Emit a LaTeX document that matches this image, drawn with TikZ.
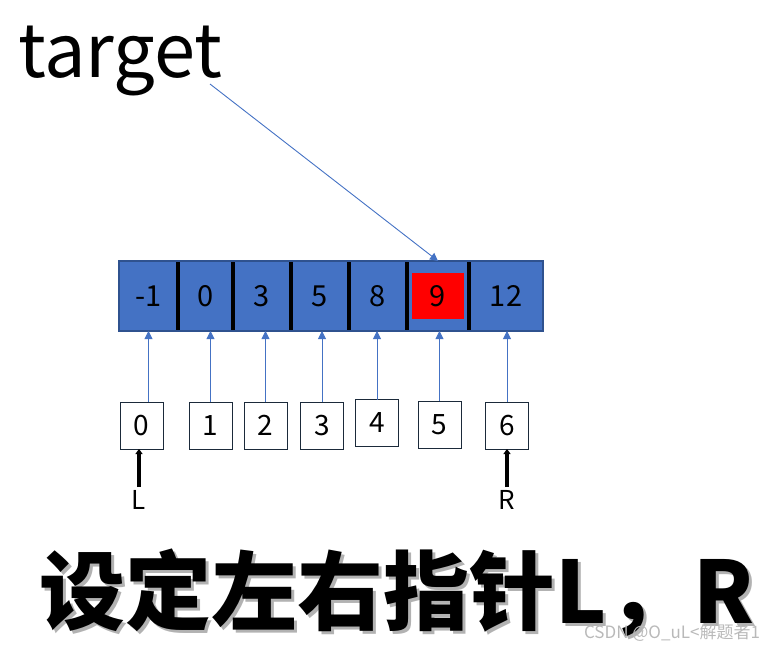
\documentclass[tikz,border=0pt]{standalone}
\usepackage{fontspec}
\setmainfont{Noto Sans CJK SC}
\usetikzlibrary{positioning,arrows.meta}
\usepackage{xcolor}
\definecolor{cellblue}{HTML}{4472C4}
\definecolor{celledge}{HTML}{2F528F}
\definecolor{boxedge}{HTML}{1B2A3A}

\begin{document}
\begin{tikzpicture}[x=1pt, y=-1pt, >={Triangle[length=8pt,width=8pt]}, every node/.style={inner sep=0pt, outer sep=0pt}]
\tikzstyle{cell}=[rectangle, draw=celledge, line width=1.2pt, fill=cellblue, minimum height=70pt, font=\fontsize{29}{29}\selectfont]
\tikzstyle{idx}=[rectangle, draw=boxedge, line width=1pt, fill=white, minimum width=43pt, minimum height=47pt, font=\fontsize{28}{28}\selectfont]
\tikzstyle{ptr}=[font=\fontsize{26}{26}\selectfont, inner sep=3pt]
\tikzstyle{link}=[->, draw=cellblue, line width=0.9pt]
\tikzstyle{thick ptr}=[-{Triangle[length=5pt,width=7pt]}, line width=3.5pt]

\useasboundingbox (0,0) rectangle (775,652);

% Target label
\node[anchor=base west, font=\fontsize{74}{74}\selectfont] (tgt) at (18,78) {target};
\coordinate (tgtfoot) at (210,84);

% Sorted array (cells touch each other)
\node[cell, minimum width=59pt] (c0) at (148.5,296) {-1};
\node[cell, minimum width=55pt, right=0pt of c0] (c1) {0};
\node[cell, minimum width=58pt, right=0pt of c1] (c2) {3};
\node[cell, minimum width=58pt, right=0pt of c2] (c3) {5};
\node[cell, minimum width=58pt, right=0pt of c3] (c4) {8};
\node[cell, minimum width=62pt, right=0pt of c4] (c5) {};
\node[cell, minimum width=74pt, right=0pt of c5] (c6) {12};
\node[fill=red, minimum width=52pt, minimum height=46pt, font=\fontsize{29}{29}\selectfont] (hit) at (c5) {9};

% Black separators between cells
\foreach \a in {c0,c1,c2,c3,c4,c5}
  \draw[line width=4pt, shorten <=1pt, shorten >=1pt] (\a.north east) -- (\a.south east);

% Index boxes
\node[idx] (i0) at (141.5,425.5) {0};
\node[idx] (i1) at (210.5,425.5) {1};
\node[idx] (i2) at (265.5,425.5) {2};
\node[idx] (i3) at (322,425.5) {3};
\node[idx] (i4) at (377,423) {4};
\node[idx] (i5) at (439.5,424.5) {5};
\node[idx] (i6) at (507,425.5) {6};

% Index -> cell arrows
\draw[link] (i0.north -| c0.south) -- (c0.south);
\foreach \i in {1,...,6}
  \draw[link] (i\i.north) -- (i\i.north |- c\i.south);
\draw[link] (tgtfoot) -- (c5.north);

% Pointers L and R
\node[ptr, anchor=north] (pL) at (139,487) {L};
\node[ptr, anchor=north] (pR) at (507,487) {R};
\draw[thick ptr] (pL.north) -- (pL.north |- i0.south);
\draw[thick ptr] (pR.north) -- (pR.north |- i6.south);

% Caption
\node[text=gray!60, font=\bfseries\fontsize{86}{86}\selectfont] (capshade) at (400,596) {设定左右指针L，R};
\node[font=\bfseries\fontsize{86}{86}\selectfont] (caption) at (397,593) {设定左右指针L，R};
\node[anchor=south east, text=gray!55, font=\fontsize{17}{17}\selectfont] (mark) at (760,641) {CSDN @O\_uL<解题者1};
\end{tikzpicture}
\end{document}
